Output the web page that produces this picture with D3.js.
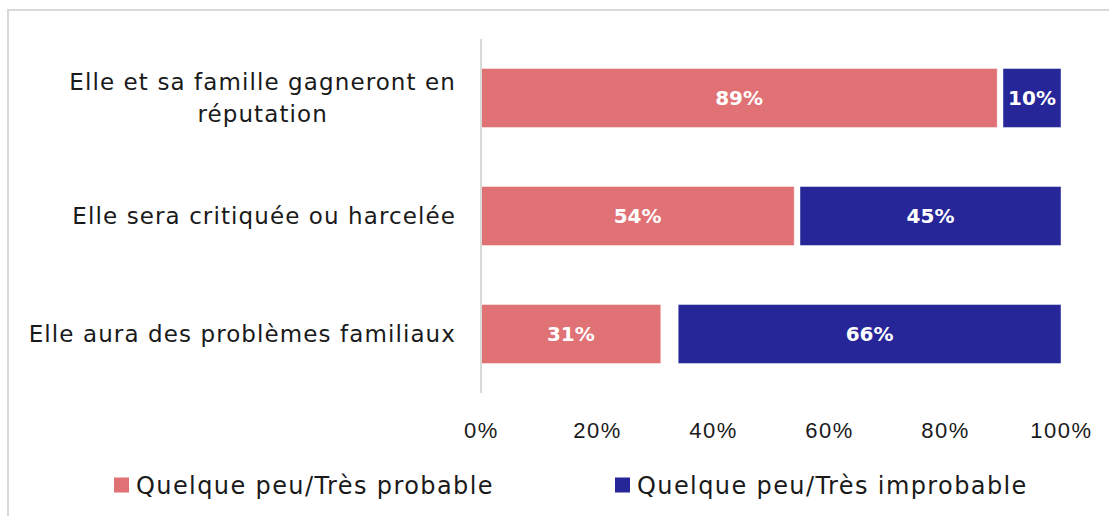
<!DOCTYPE html>
<html>
<head>
<meta charset="utf-8">
<script src="https://cdn.jsdelivr.net/npm/d3@7"></script>
<style>
  body { margin: 0; background: #fff; }
  svg { display: block; font-family: "DejaVu Sans", sans-serif; }
</style>
</head>
<body>
<svg id="chart" width="1109" height="516"></svg>
<script>
// DATA
const categories = [
    ["Elle et sa famille gagneront en", "réputation"],
    ["Elle sera critiquée ou harcelée"],
    ["Elle aura des problèmes familiaux"]
];
const probable = [89, 54, 31];
const unknown = [1, 1, 3];
const improbable = [10, 45, 66];
const ticks = [0, 20, 40, 60, 80, 100];
const seriesNames = ["Quelque peu/Très probable", "Quelque peu/Très improbable"];
const colors = ["#e07174", "#262698"];

const width = 1109, height = 516;
const margin = { top: 39, right: 48, bottom: 123, left: 481 };

const svg = d3.select("svg#chart");

// frame
svg.append("path")
    .attr("d", `M8,516 V10 H1109`)
    .attr("fill", "none")
    .attr("stroke", "#d9d9d9")
    .attr("stroke-width", 2);

// SCALES
const xScale = d3.scaleLinear()
    .domain([0, 100])
    .range([margin.left, width - margin.right]);

const yScale = d3.scaleBand()
    .domain(d3.range(categories.length))
    .range([margin.top, height - margin.bottom])
    .paddingInner(0.5)
    .paddingOuter(0.25);

const rows = categories.map((c, i) => ({
    i,
    segs: [
        { s: 0, v: probable[i], x0: 0, x1: probable[i] },
        { s: 1, v: improbable[i], x0: probable[i] + unknown[i], x1: probable[i] + unknown[i] + improbable[i] }
    ]
}));

// BARS
const g = svg.append("g");
const segs = g.selectAll("g.row")
    .data(rows)
    .join("g")
    .attr("class", "row")
    .selectAll("g.seg")
    .data(d => d.segs.map(s => ({ ...s, row: d.i })))
    .join("g");

segs.append("rect")
    .attr("x", d => xScale(d.x0))
    .attr("y", d => yScale(d.row))
    .attr("width", d => xScale(d.x1) - xScale(d.x0))
    .attr("height", yScale.bandwidth())
    .attr("fill", d => colors[d.s])
    .attr("stroke", "#fff")
    .attr("stroke-opacity", 0.45)
    .attr("stroke-width", 1);

segs.append("text")
    .attr("x", d => (xScale(d.x0) + xScale(d.x1)) / 2)
    .attr("y", d => yScale(d.row) + yScale.bandwidth() / 2)
    .attr("dy", "0.36em")
    .attr("text-anchor", "middle")
    .attr("fill", "#fff")
    .attr("font-weight", "bold")
    .attr("font-size", 20)
    .text(d => d.v + "%");

// AXIS
svg.append("line")
    .attr("x1", xScale(0)).attr("x2", xScale(0))
    .attr("y1", margin.top).attr("y2", height - margin.bottom)
    .attr("stroke", "#d9d9d9")
    .attr("stroke-width", 2);

const xAxis = gg => gg.attr("transform", `translate(0, ${height - margin.bottom})`)
    .call(d3.axisBottom(xScale).tickValues(ticks).tickFormat(d => d + "%").tickSize(0).tickPadding(29))
    .call(a => a.select(".domain").remove())
    .call(a => a.selectAll("text")
        .attr("font-size", 22).attr("letter-spacing", 1.5)
        .attr("fill", "#1a1a1a").attr("font-family", null));

svg.append("g").call(xAxis);

// CATEGORY LABELS
const labelX = 456;
const lineH = 32;
categories.forEach((lines, i) => {
    const cy = yScale(i) + yScale.bandwidth() / 2;
    const t = svg.append("text")
        .attr("font-size", 23)
        .attr("letter-spacing", 1.1)
        .attr("fill", "#1a1a1a");
    const spans = lines.map((l, k) => t.append("tspan")
        .attr("y", cy + (k - (lines.length - 1) / 2) * lineH)
        .attr("dy", "0.36em")
        .text(l));
    if (lines.length === 1) {
        t.attr("text-anchor", "end");
        spans[0].attr("x", labelX);
    } else {
        const w = d3.max(spans, s => s.node().getComputedTextLength());
        t.attr("text-anchor", "middle");
        spans.forEach(s => s.attr("x", labelX - w / 2));
    }
});

// LEGEND
const legendX = [114, 615];
const legend = svg.append("g").selectAll("g")
    .data(seriesNames)
    .join("g")
    .attr("transform", (d, i) => `translate(${legendX[i]}, 485)`);

legend.append("rect")
    .attr("x", 0).attr("y", -7.5)
    .attr("width", 15).attr("height", 15)
    .attr("fill", (d, i) => colors[i]);

legend.append("text")
    .attr("x", 22)
    .attr("dy", "0.36em")
    .attr("font-size", 24)
    .attr("letter-spacing", 1.4)
    .attr("fill", "#1a1a1a")
    .text(d => d);
</script>
</body>
</html>
